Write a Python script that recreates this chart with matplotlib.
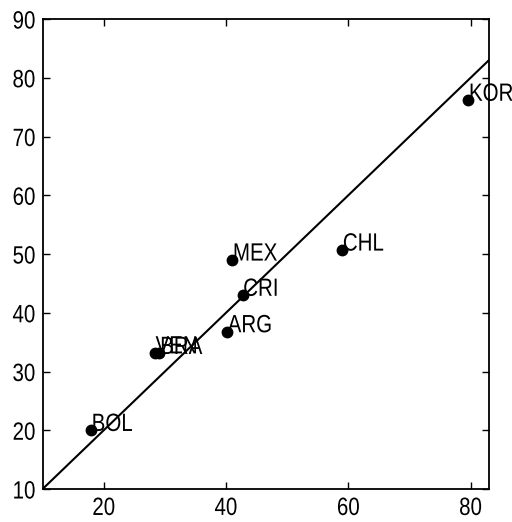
import matplotlib
matplotlib.use("Agg")
import matplotlib.pyplot as plt
from matplotlib.patheffects import AbstractPathEffect
from matplotlib.transforms import Affine2D

plt.rcParams['font.family'] = ['Liberation Sans', 'DejaVu Sans']

countries = ["KOR", "CHL", "MEX", "CRI", "ARG", "VEN", "BRA", "BOL"]
x_vals = [79.6, 59.0, 41.0, 42.7, 40.2, 28.4, 29.1, 17.9]
y_vals = [76.2, 50.7, 49.0, 43.0, 36.8, 33.2, 33.1, 20.0]
line_x = [10, 83]
line_y = [10, 83]
xticks = [20, 40, 60, 80]
yticks = [10, 20, 30, 40, 50, 60, 70, 80, 90]


class Condense(AbstractPathEffect):
    """Squeeze glyphs horizontally around a pivot (left/center/right)."""
    def __init__(self, sx=0.82, pivot='left'):
        super().__init__()
        self.sx = sx
        self.pivot = pivot

    def draw_path(self, renderer, gc, tpath, affine, rgbFace=None):
        bb = tpath.get_extents(affine)
        if self.pivot == 'left':
            px = bb.x0
        elif self.pivot == 'right':
            px = bb.x1
        else:
            px = 0.5 * (bb.x0 + bb.x1)
        t = affine + Affine2D().translate(-px, 0).scale(self.sx, 1).translate(px, 0)
        renderer.draw_path(gc, tpath, t, rgbFace)


SX = 0.82
FS = 18

fig = plt.figure(figsize=(5.12, 5.22), dpi=100)
ax = fig.add_axes([0.0832, 0.0632, 0.955 - 0.0832, 0.9636 - 0.0632])
ax.plot(line_x, line_y, color='black', lw=1.5)
ax.plot(x_vals, y_vals, 'o', color='black', markersize=7.5)
for c, xv, yv in zip(countries, x_vals, y_vals):
    ax.annotate(c, (xv, yv), xytext=(0.3, -0.5), textcoords='offset points',
                ha='left', va='baseline', fontsize=FS,
                path_effects=[Condense(SX, 'left')], annotation_clip=False)
ax.set_xlim(10, 83)
ax.set_ylim(10, 90)
ax.set_xticks(xticks)
ax.set_yticks(yticks)
ax.tick_params(direction='in', length=5, width=1, top=True, right=True, labelsize=FS)
ax.tick_params(axis='x', pad=5)
ax.tick_params(axis='y', pad=5)
for lab in ax.get_xticklabels():
    lab.set_path_effects([Condense(SX, 'center')])
for lab in ax.get_yticklabels():
    lab.set_path_effects([Condense(SX, 'right')])
for s in ax.spines.values():
    s.set_linewidth(1.3)
fig.savefig("out.png", dpi=100)
